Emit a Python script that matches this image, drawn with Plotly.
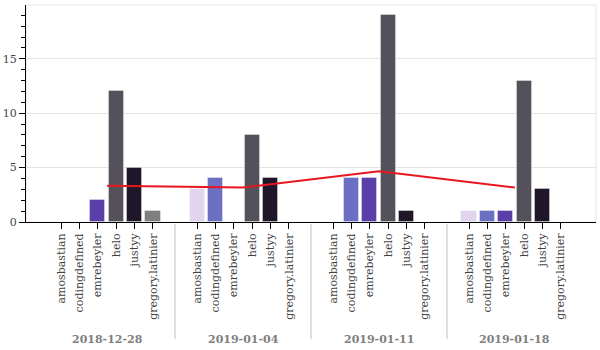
import plotly.graph_objects as go

names = ["amosbastian", "codingdefined", "emrebeyler", "helo", "justyy", "gregory.latinier"]
dates = ["2018-12-28", "2019-01-04", "2019-01-11", "2019-01-18"]
counts = {
    "2018-12-28": [0, 0, 2, 12, 5, 1],
    "2019-01-04": [3, 4, 0, 8, 4, 0],
    "2019-01-11": [0, 4, 4, 19, 1, 0],
    "2019-01-18": [1, 1, 1, 13, 3, 0],
}
averages = [3.33, 3.17, 4.67, 3.17]
colors = {
    "amosbastian": "#e2d4ec",
    "codingdefined": "#6b70c2",
    "emrebeyler": "#5b3fa9",
    "helo": "#54515a",
    "justyy": "#1f1629",
    "gregory.latinier": "#808080",
}

GROUP_PAD = 1.4
n = len(names)
span = n + GROUP_PAD

xs, ys, cs, labels = [], [], [], []
for g, d in enumerate(dates):
    for j, nm in enumerate(names):
        xs.append(g * span + j + 0.5)
        ys.append(counts[d][j])
        cs.append(colors[nm])
        labels.append(nm)

centers = [g * span + n / 2 for g in range(len(dates))]
total = len(dates) * span - GROUP_PAD
pad = 0.05 * total

FONT = "DejaVu Serif"

fig = go.Figure()
fig.add_trace(go.Bar(
    x=xs, y=ys, width=0.82,
    marker=dict(color=cs, line=dict(width=1, color="rgba(255,255,255,0.35)")),
    showlegend=False, hoverinfo="x+y",
))
fig.add_trace(go.Scatter(
    x=centers, y=averages, mode="lines",
    line=dict(color="#e8171f", width=2), showlegend=False,
))

shapes = [dict(type="rect", xref="paper", yref="paper", x0=0, x1=1, y0=0, y1=1,
               line=dict(color="#e5e5e5", width=1), layer="below")]
for g in range(1, len(dates)):
    xd = g * span - GROUP_PAD / 2
    shapes.append(dict(type="line", xref="x", yref="paper", x0=xd, x1=xd,
                       y0=-0.01, y1=-0.54, line=dict(color="#e0e0e0", width=2)))

annotations = [dict(x=c, y=0, xref="x", yref="paper", text=f"<b>{d}</b>",
                    showarrow=False, yanchor="middle", yshift=-117,
                    font=dict(family=FONT, size=11, color="#7f7f7f"))
               for c, d in zip(centers, dates)]

fig.update_layout(
    width=600, height=350,
    margin=dict(l=26, r=4, t=5, b=128),
    plot_bgcolor="white", paper_bgcolor="white",
    bargap=0,
    shapes=shapes, annotations=annotations,
    font=dict(family=FONT, size=11, color="#444"),
    xaxis=dict(
        range=[-pad, total + pad], tickmode="array", tickvals=xs, ticktext=labels,
        tickangle=-90, ticks="outside", ticklen=6, tickcolor="black",
        showline=True, linecolor="black", linewidth=1, showgrid=False, zeroline=False,
        tickfont=dict(family=FONT, size=11, color="#444"),
    ),
    yaxis=dict(
        range=[0, 19.95], dtick=5, ticks="outside", ticklen=6, tickcolor="black",
        showline=True, linecolor="black", linewidth=1, gridcolor="#e5e5e5",
        zeroline=False,
        minor=dict(dtick=1, ticks="outside", ticklen=4, tickcolor="black", showgrid=False),
        tickfont=dict(family=FONT, size=11, color="#444"),
    ),
)
fig.write_html("out.html")
